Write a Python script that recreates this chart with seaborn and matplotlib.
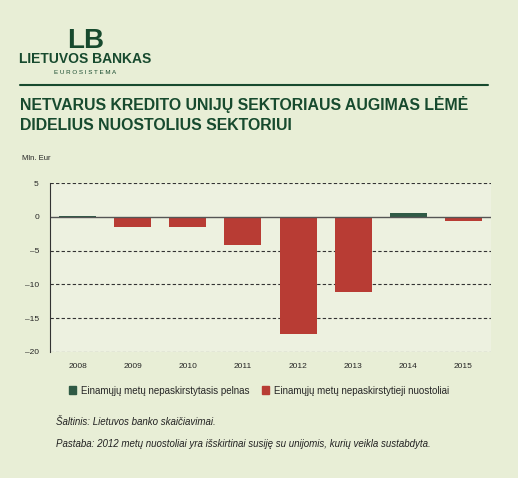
import matplotlib
matplotlib.use('Agg')
import matplotlib.pyplot as plt
import seaborn as sns
import pandas as pd
from matplotlib.patches import Patch

years = ['2008', '2009', '2010', '2011', '2012', '2013', '2014', '2015']
values = [0.15, -1.5, -1.5, -4.1, -17.4, -11.1, 0.6, -0.6]
series = ['Einamųjų metų nepaskirstytasis pelnas' if v > 0 else 'Einamųjų metų nepaskirstytieji nuostoliai' for v in values]
yticks = [5, 0, -5, -10, -15, -20]

green = '#2f5a45'
red = '#b83c34'
bg = '#e8eed6'
dark = '#174a2e'

df = pd.DataFrame({'year': years, 'value': values, 'series': series})

sns.set_style('white')
plt.rcParams['font.family'] = ['Liberation Sans', 'DejaVu Sans']
fig = plt.figure(figsize=(5.18, 4.78), dpi=100, facecolor=bg)
ax = fig.add_axes([0.0965, 0.2636, 0.8515, 0.3534])
ax.set_facecolor('#edf1e0')
sns.barplot(data=df, x='year', y='value', hue='series', dodge=False, width=0.67, saturation=1,
            palette={'Einamųjų metų nepaskirstytasis pelnas': green,
                     'Einamųjų metų nepaskirstytieji nuostoliai': red},
            legend=False, linewidth=0, ax=ax)
ax.set_ylim(-20, 5)
ax.set_xlim(-0.5, 7.5)
ax.set_yticks(yticks)
ax.set_yticklabels(['5', '0', '–5', '–10', '–15', '–20'], fontsize=6)
ax.tick_params(axis='x', labelsize=6, length=0, pad=8)
ax.tick_params(axis='y', length=0, pad=8)
for t in yticks:
    if t != 0:
        ax.axhline(t, color='#333333', lw=0.8, ls=(0, (3, 2)), zorder=0)
ax.axhline(0, color='#555555', lw=1, zorder=1)
for s in ['top', 'right', 'bottom']:
    ax.spines[s].set_visible(False)
ax.spines['left'].set_color('#333333')
ax.spines['left'].set_linewidth(0.8)
ax.set_xlabel('')
ax.set_ylabel('')

fig.text(0.042, 0.665, 'Mln. Eur', fontsize=5.5, color='#222222')

# header
fig.text(0.165, 0.90, 'LB', fontsize=20, fontweight='bold', color=dark, ha='center')
fig.text(0.165, 0.869, 'LIETUVOS BANKAS', fontsize=10, fontweight='bold', color=dark, ha='center')
fig.text(0.165, 0.845, 'E U R O S I S T E M A', fontsize=4.5, color=dark, ha='center')
fig.add_artist(plt.Line2D([0.039, 0.942], [0.823, 0.823], color=dark, lw=1.5, transform=fig.transFigure))
fig.text(0.039, 0.77, 'NETVARUS KREDITO UNIJŲ SEKTORIAUS AUGIMAS LĖMĖ', fontsize=11.4,
         fontweight='bold', color=dark)
fig.text(0.039, 0.728, 'DIDELIUS NUOSTOLIUS SEKTORIUI', fontsize=11.4, fontweight='bold', color=dark)

handles = [Patch(color=green, label='Einamųjų metų nepaskirstytasis pelnas'),
           Patch(color=red, label='Einamųjų metų nepaskirstytieji nuostoliai')]
fig.legend(handles=handles, loc='center', bbox_to_anchor=(0.5, 0.183), ncol=2, frameon=False,
           fontsize=7, handlelength=0.8, handleheight=0.8, columnspacing=1.2, handletextpad=0.5)

fig.text(0.108, 0.11, 'Šaltinis: Lietuvos banko skaičiavimai.', fontsize=7, style='italic', color='#222222')
fig.text(0.108, 0.065, 'Pastaba: 2012 metų nuostoliai yra išskirtinai susiję su unijomis, kurių veikla sustabdyta.',
         fontsize=7, style='italic', color='#222222')

fig.savefig('out.png', dpi=100, facecolor=bg)
